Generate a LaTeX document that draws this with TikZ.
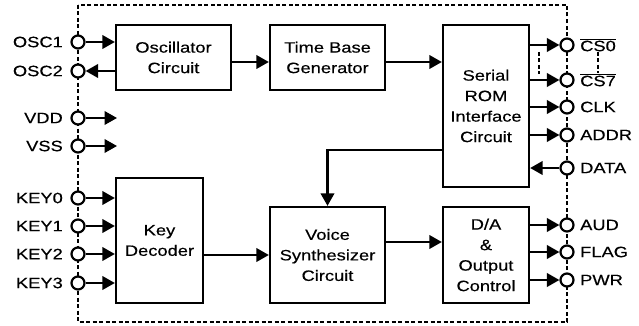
\documentclass[tikz,border=0pt]{standalone}
\usepackage{fontspec}
\setmainfont[FakeStretch=1.22, FakeBold=0.4]{Liberation Sans}
\usetikzlibrary{arrows.meta, positioning}

\begin{document}
\begin{tikzpicture}[x=1pt, y=-1pt,
    every node/.style={font=\fontsize{15}{20.5}\selectfont, inner sep=1pt},
    blk/.style={draw, line width=2.3pt, align=center, inner sep=0pt},
    pin/.style={draw, circle, fill=white, line width=2.2pt, minimum size=13pt, inner sep=0pt},
    sig/.style={line width=2.2pt, -{Triangle[length=12.5pt, width=13.5pt]}},
    bdr/.style={line width=1.8pt, dash pattern=on 4pt off 2.5pt}]

    \useasboundingbox (0,0) rectangle (639,326);

    % 1. chip outline (dashed)
    \draw[bdr] (78,5) rectangle (567,322);

    % 2. function blocks
    \node[blk, minimum width=115pt, minimum height=65pt]  (osc)    at (173.5,57.5) {Oscillator\\Circuit};
    \node[blk, minimum width=115pt, minimum height=65pt]  (tbg)    at (327.5,57.5) {Time Base\\Generator};
    \node[blk, minimum width=86pt,  minimum height=162pt] (srom)   at (486,106)    {Serial\\ROM\\Interface\\Circuit};
    \node[blk, minimum width=87pt,  minimum height=125pt] (keydec) at (159.5,240.5) {Key\\Decoder};
    \node[blk, minimum width=115pt, minimum height=96pt]  (voice)  at (327.5,255)  {Voice\\Synthesizer\\Circuit};
    \node[blk, minimum width=86pt,  minimum height=96pt]  (dac)    at (486,255)    {D/A\\\&\\Output\\Control};

    % 3. left pins
    \foreach \name/\y/\txt in {osc1/42/OSC1, osc2/71/OSC2, vdd/118/VDD, vss/146/VSS,
                               key0/198/KEY0, key1/226/KEY1, key2/254/KEY2, key3/283/KEY3} {
        \node[pin] (\name) at (78,\y) {};
        \node[anchor=east] (\name-lbl) at (64,\y) {\txt};
    }

    % 4. right pins
    \foreach \name/\y/\txt in {cs0/45/$\overline{\hbox{CS0}}$, cs7/80/$\overline{\hbox{CS7}}$,
                               clk/107/CLK, addr/135/ADDR, data/168/DATA,
                               aud/225/AUD, flag/252/FLAG, pwr/280/PWR} {
        \node[pin] (\name) at (567,\y) {};
        \node[anchor=west] (\name-lbl) at (579,\y) {\txt};
    }

    % 5. signals
    \draw[sig] (osc1) -- (osc.west |- osc1);
    \draw[sig] (osc.west |- osc2) -- (osc2);
    \coordinate (vdd-end) at (117,118);
    \coordinate (vss-end) at (117,146);
    \draw[sig] (vdd) -- (vdd-end);
    \draw[sig] (vss) -- (vss-end);
    \draw[sig] ([yshift=-4.5pt]osc.east) -- ([yshift=-4.5pt]tbg.west);
    \draw[sig] (tbg.east |- 0,62) -- (srom.west |- 0,62);

    \foreach \p in {cs0, cs7, clk, addr} {
        \draw[sig] (srom.east |- \p) -- (\p);
    }
    \draw[sig] (data) -- (srom.east |- data);

    \coordinate (bend) at (327.5,150);
    \draw[sig] (srom.west |- bend) -- (bend) -- (voice.north);

    \foreach \p in {key0, key1, key2, key3} {
        \draw[sig] (\p) -- (keydec.west |- \p);
    }
    \draw[sig] (keydec.east |- voice.west) -- (voice.west);
    \draw[sig] ([yshift=13pt]voice.east) -- ([yshift=13pt]dac.west);

    \foreach \p in {aud, flag, pwr} {
        \draw[sig] (dac.east |- \p) -- (\p);
    }

    % 6. CS0 ... CS7 range marks
    \draw[bdr] (539,52) -- (539,74);
    \draw[bdr] ([yshift=1pt]cs0-lbl.south) -- ([yshift=-1pt]cs7-lbl.north);

\end{tikzpicture}
\end{document}
